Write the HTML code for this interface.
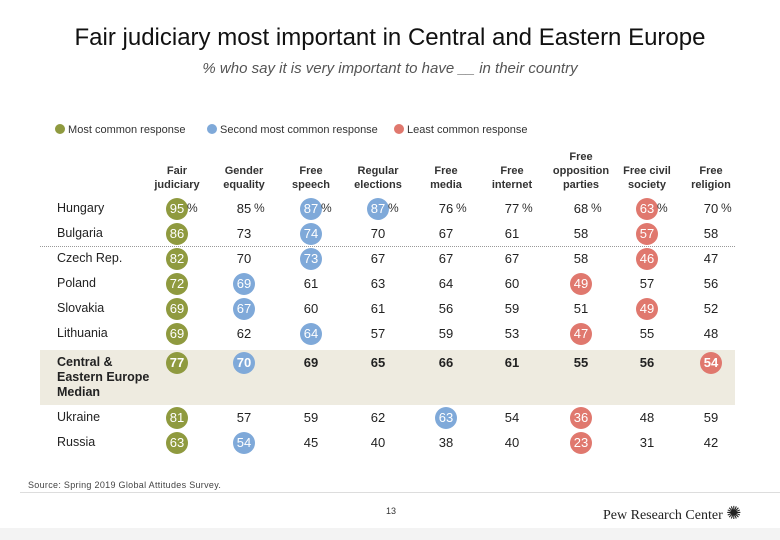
<!DOCTYPE html>
<html><head><meta charset="utf-8"><style>
body{margin:0;width:780px;height:540px;background:#fff;font-family:"Liberation Sans",sans-serif;position:relative;overflow:hidden}
.a{position:absolute}
.t{text-align:center;white-space:nowrap}
.hd{font-weight:bold;font-size:11px;line-height:14px;color:#333;text-align:center;width:80px}
.c{width:22px;height:22px;border-radius:50%}
</style></head><body>
<div class="a t" style="left:0;width:780px;top:24px;font-size:24px;color:#111">Fair judiciary most important in Central and Eastern Europe</div>
<div class="a t" style="left:0;width:780px;top:60px;font-size:15px;font-style:italic;color:#555">% who say it is very important to have __ in their country</div>
<div class="a" style="left:55px;top:124px;font-size:11px;color:#333">
<span style="position:absolute;left:0;width:200px"><span style="display:inline-block;width:10px;height:10px;border-radius:50%;background:#8f9a3f;vertical-align:-1px"></span> Most common response</span>
<span style="position:absolute;left:152px;width:200px"><span style="display:inline-block;width:10px;height:10px;border-radius:50%;background:#7fa9d9;vertical-align:-1px"></span> Second most common response</span>
<span style="position:absolute;left:339px;width:200px"><span style="display:inline-block;width:10px;height:10px;border-radius:50%;background:#e0786e;vertical-align:-1px"></span> Least common response</span>
</div>
<div class="a" style="left:40px;top:350px;width:695px;height:55px;background:#eeebe0"></div>
<div class="a" style="left:40px;top:246px;width:695px;border-top:1px dotted #999"></div>
<div id="tbl"></div>
<div class="a" style="left:28px;top:480px;font-size:9px;color:#444;letter-spacing:0.3px">Source: Spring 2019 Global Attitudes Survey.</div>
<div class="a" style="left:20px;top:492px;width:760px;border-top:1px solid #ddd"></div>
<div class="a" style="left:386px;top:506px;font-size:9px;color:#333">13</div>
<div class="a" style="left:603px;top:503px;font-family:'Liberation Serif',serif;font-size:14px;color:#222">Pew Research Center <span style="font-size:18px">✺</span></div>
<div class="a" style="left:0;top:528px;width:780px;height:12px;background:#f3f3f3"></div>
<script>
const columns=["Fair<br>judiciary","Gender<br>equality","Free<br>speech","Regular<br>elections","Free<br>media","Free<br>internet","Free<br>opposition<br>parties","Free civil<br>society","Free<br>religion"];
const countries=["Hungary","Bulgaria","Czech Rep.","Poland","Slovakia","Lithuania","Central &<br>Eastern Europe<br>Median","Ukraine","Russia"];
const values=[
[95,85,87,87,76,77,68,63,70],
[86,73,74,70,67,61,58,57,58],
[82,70,73,67,67,67,58,46,47],
[72,69,61,63,64,60,49,57,56],
[69,67,60,61,56,59,51,49,52],
[69,62,64,57,59,53,47,55,48],
[77,70,69,65,66,61,55,56,54],
[81,57,59,62,63,54,36,48,59],
[63,54,45,40,38,40,23,31,42]];
const highlight=[
"g.bb...r.","g.b....r.","g.b....r.","gb....r..","gb.....r.","g.b...r..","gb......r","g...b.r..","gb....r.."];
const colX=[177,244,311,378,446,512,581,647,711];
const rowY=[209,234,259,284,309,334,363,418,443];
const col={g:"#8f9a3f",b:"#7fa9d9",r:"#e0786e"};
const T=document.getElementById('tbl');
columns.forEach((c,j)=>{const d=document.createElement('div');d.className='a hd';


d.innerHTML=c;d.style.left=(colX[j]-40)+'px';d.style.bottom=(540-192)+'px';T.appendChild(d);});
countries.forEach((n,i)=>{const med=i==6;const d=document.createElement('div');d.className='a';


d.innerHTML=n;d.style.left='57px';d.style.top=(rowY[i]-8)+'px';d.style.fontSize='12.5px';d.style.lineHeight='15px';d.style.color='#222';if(med){d.style.fontWeight='bold';}T.appendChild(d);
values[i].forEach((v,j)=>{const h=highlight[i][j];
if(h!='.'){const c=document.createElement('div');c.className='a c';


c.style.background=col[h];c.style.left=(colX[j]-11)+'px';c.style.top=(rowY[i]-11)+'px';T.appendChild(c);}
const t=document.createElement('div');t.className='a t';


t.textContent=v;t.style.left=(colX[j]-20)+'px';t.style.width='40px';t.style.top=(rowY[i]-8)+'px';t.style.fontSize='13px';t.style.color=h!='.'?'#fff':'#222';if(med)t.style.fontWeight='bold';T.appendChild(t);
if(i==0){const p=document.createElement('div');p.className='a';


p.textContent='%';p.style.left=(colX[j]+10)+'px';p.style.top=(rowY[i]-8)+'px';p.style.fontSize='12px';p.style.color='#333';T.appendChild(p);}
});});
</script>
</body></html>
